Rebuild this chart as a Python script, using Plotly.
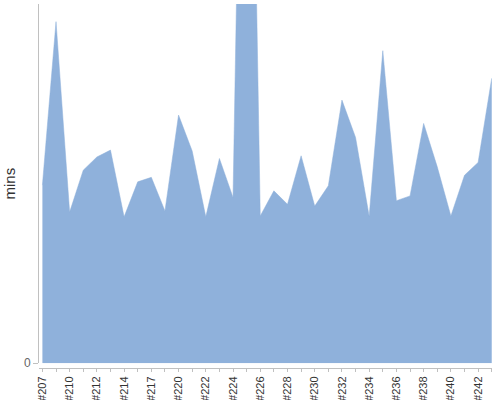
import plotly.graph_objects as go

# ── data ──────────────────────────────────────────────────────────────────────
episodes = ['#207', '#208', '#210', '#211', '#212', '#213', '#214', '#215', '#217', '#218',
            '#220', '#221', '#222', '#223', '#224', '#225', '#226', '#227', '#228', '#229',
            '#230', '#231', '#232', '#233', '#234', '#235', '#236', '#237', '#238', '#239',
            '#240', '#241', '#242', '#243']
minutes = [59.5, 114.1, 50.5, 64.5, 68.9, 71.2, 48.9, 60.6, 62.1, 50.9,
           82.9, 70.9, 48.9, 68.4, 55.4, 315.2, 49.2, 57.6, 53.1, 69.3,
           52.5, 59.3, 87.9, 75.4, 49.1, 104.4, 54.3, 55.9, 80.1, 65.6,
           49.2, 62.8, 67.1, 95.2]
y_max = 120

FONT = 'Liberation Sans, Arial, sans-serif'
FILL = '#8fb1db'
AXIS = '#c0c0c0'

pos = list(range(len(episodes)))

fig = go.Figure()
fig.add_trace(go.Scatter(
    x=pos, y=minutes,
    mode='lines', fill='tozeroy',
    fillcolor=FILL,
    line=dict(color=FILL, width=0.5),
    hovertemplate='%{text}<br>%{y:.0f} mins<extra></extra>',
    text=episodes,
    showlegend=False,
))

fig.update_layout(
    width=500, height=400,
    paper_bgcolor='white', plot_bgcolor='white',
    font=dict(family=FONT, color='#333'),
    margin=dict(l=38.5, r=8, t=4, b=32, autoexpand=False),
    xaxis=dict(
        automargin=False,
        range=[-0.25, len(episodes) - 1 + 0.02],
        tickmode='array', tickvals=pos[::2], ticktext=episodes[::2],
        tickangle=-90,
        tickfont=dict(size=11, color='#333'),
        ticks='outside', ticklen=3, tickcolor=AXIS,
        minor=dict(dtick=1, tick0=0, ticks='outside', ticklen=3, tickcolor=AXIS),
        showline=True, linecolor=AXIS, linewidth=1,
        showgrid=False, zeroline=False,
        anchor='free', position=0,
    ),
    yaxis=dict(
        automargin=False,
        domain=[0.013, 1],
        range=[0, y_max],
        tickmode='array', tickvals=[0],
        tickfont=dict(size=12, color='#666'),
        ticks='outside', ticklen=5, tickcolor=AXIS,
        showline=True, linecolor=AXIS, linewidth=1,
        showgrid=False, zeroline=False,
        title=dict(text='mins', font=dict(size=15, color='#333'), standoff=4),
    ),
)

# page body has a default 8px margin; drop it so the chart sits at the corner
fig.write_html("out.html", config={'displayModeBar': False},
               post_script="document.body.style.margin='0px';")
